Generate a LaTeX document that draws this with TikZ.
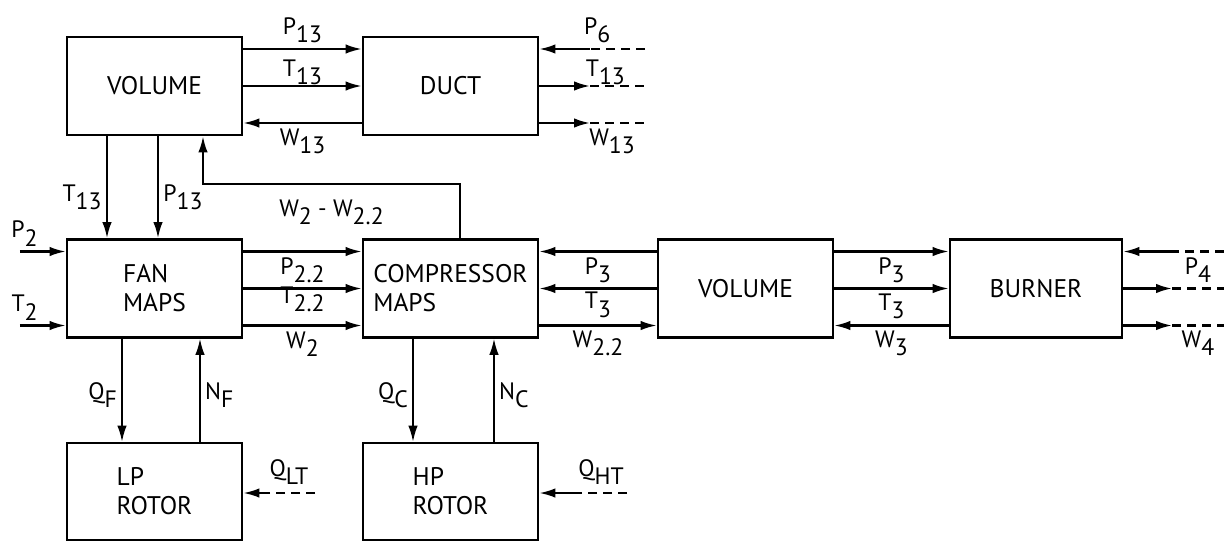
\documentclass[tikz,border=0pt]{standalone}
\usepackage{fontspec}
\setmainfont{PT Sans}
\usetikzlibrary{arrows.meta}
\newcommand\lbl[2]{#1\raisebox{-0.7ex}{#2}}

\begin{document}
\begin{tikzpicture}[
    block/.style={draw,line width=1.6pt,minimum width=3.5cm,minimum height=1.96cm,
      align=left,font=\fontsize{14.5}{16.5}\selectfont},
    flow/.style={line width=1.2pt,-{Latex[length=3.2mm,width=1.9mm]}},
    shaft/.style={flow,line width=0.9pt},
    feed/.style={line width=1.2pt,dash pattern=on 1.8mm off 1.2mm},
    lab/.style={font=\fontsize{13.5}{15}\selectfont,inner sep=2.5pt}]
  \useasboundingbox (0,0) rectangle (24.48,10.84);
  % the blocks of the engine model
  \node[block] (volt) at (3.09,9.12) {VOLUME};
  \node[block] (duct) at (9.01,9.12) {DUCT};
  \node[block] (fan) at (3.09,5.07) {FAN\\MAPS};
  \node[block] (comp) at (9.01,5.07) {COMPRESSOR\\MAPS};
  \node[block] (volm) at (14.91,5.07) {VOLUME};
  \node[block,minimum width=3.44cm] (burn) at (20.72,5.07) {BURNER};
  \node[block,minimum height=1.94cm] (lp) at (3.09,1.01) {LP\\ROTOR};
  \node[block,minimum height=1.94cm] (hp) at (9.01,1.01) {HP\\ROTOR};

  % volume <-> duct
  \draw[flow] ([yshift=0.74cm]volt.east) -- ([yshift=0.74cm]duct.west)
    node[lab,midway,above,inner sep=3pt] (p13a) {\lbl{P}{13}};
  \draw[flow] (volt.east) -- (duct.west)
    node[lab,midway,above,inner sep=0pt] (t13a) {\lbl{T}{13}};
  \draw[flow] ([yshift=-0.74cm]duct.west) -- ([yshift=-0.74cm]volt.east)
    node[lab,midway,below] (w13a) {\lbl{W}{13}};

  % free ends right of the duct
  \coordinate (p6a) at (11.8,9.86);  \coordinate (p6b) at (12.9,9.86);
  \coordinate (t6a) at (11.8,9.12);  \coordinate (t6b) at (12.9,9.12);
  \coordinate (w6a) at (11.8,8.38);  \coordinate (w6b) at (12.9,8.38);
  \draw[feed] (p6b) -- (p6a) node[lab,pos=0.87,above,inner sep=3pt] (p6) {\lbl{P}{6}};
  \draw[flow] (p6a) -- (duct.east |- p6a);
  \draw[flow] (duct.east |- t6a) -- (t6a);
  \draw[feed] (t6a) -- (t6b) node[lab,pos=0.28,above,inner sep=0pt] (t13b) {\lbl{T}{13}};
  \draw[flow] (duct.east |- w6a) -- (w6a);
  \draw[feed] (w6a) -- (w6b) node[lab,pos=0.4,below] (w13b) {\lbl{W}{13}};

  % volume -> fan, and bleed back to the volume
  \draw[flow] ([xshift=-0.95cm]volt.south) -- ([xshift=-0.95cm]fan.north)
    node[lab,pos=0.6,left] (t13c) {\lbl{T}{13}};
  \draw[flow] ([xshift=0.07cm]volt.south) -- ([xshift=0.07cm]fan.north)
    node[lab,pos=0.6,right] (p13c) {\lbl{P}{13}};
  \draw[flow] ([xshift=0.19cm]comp.north) -- ++(0,1.08) -| ([xshift=0.97cm]volt.south)
    node[lab,pos=0.25,below=0.2cm] (bleed) {\lbl{W}{2} - \lbl{W}{2.2}};

  % fan inlet
  \coordinate (p2a) at (0.4,5.81);  \coordinate (t2a) at (0.4,4.33);
  \draw[flow] (p2a) -- (fan.west |- p2a) node[lab,pos=0.1,above] (p2) {\lbl{P}{2}};
  \draw[flow] (t2a) -- (fan.west |- t2a) node[lab,pos=0.1,above] (t2) {\lbl{T}{2}};

  % fan -> compressor
  \draw[flow] ([yshift=0.74cm]fan.east) -- ([yshift=0.74cm]comp.west)
    node[lab,midway,below,inner sep=3pt] (p22) {\lbl{P}{2.2}};
  \draw[flow] (fan.east) -- (comp.west)
    node[lab,midway,anchor=north,yshift=0.14cm] (t22) {\lbl{T}{2.2}};
  \draw[flow] ([yshift=-0.74cm]fan.east) -- ([yshift=-0.74cm]comp.west)
    node[lab,midway,below,inner sep=3pt] (w2) {\lbl{W}{2}};

  % compressor <-> volume
  \draw[flow] ([yshift=0.74cm]volm.west) -- ([yshift=0.74cm]comp.east)
    node[lab,midway,below,inner sep=3pt] (p3a) {\lbl{P}{3}};
  \draw[flow] (volm.west) -- (comp.east)
    node[lab,midway,below,inner sep=1.5pt] (t3a) {\lbl{T}{3}};
  \draw[flow] ([yshift=-0.74cm]comp.east) -- ([yshift=-0.74cm]volm.west)
    node[lab,midway,below] (w22) {\lbl{W}{2.2}};

  % volume <-> burner
  \draw[flow] ([yshift=0.74cm]volm.east) -- ([yshift=0.74cm]burn.west)
    node[lab,midway,below,inner sep=3pt] (p3b) {\lbl{P}{3}};
  \draw[flow] (volm.east) -- (burn.west)
    node[lab,midway,below,inner sep=2.5pt] (t3b) {\lbl{T}{3}};
  \draw[flow] ([yshift=-0.74cm]burn.west) -- ([yshift=-0.74cm]volm.east)
    node[lab,midway,below] (w3) {\lbl{W}{3}};

  % free ends right of the burner
  \coordinate (p4a) at (23.44,5.81);  \coordinate (p4b) at (24.48,5.81);
  \coordinate (t4a) at (23.44,5.07);  \coordinate (t4b) at (24.48,5.07);
  \coordinate (w4a) at (23.44,4.33);  \coordinate (w4b) at (24.48,4.33);
  \draw[feed] (p4b) -- (p4a) node[lab,pos=0.5,below,inner sep=3pt] (p4) {\lbl{P}{4}};
  \draw[flow] (p4a) -- (burn.east |- p4a);
  \draw[flow] (burn.east |- t4a) -- (t4a);
  \draw[feed] (t4a) -- (t4b);
  \draw[flow] (burn.east |- w4a) -- (w4a);
  \draw[feed] (w4a) -- (w4b) node[lab,pos=0.5,below] (w4) {\lbl{W}{4}};

  % shafts
  \draw[shaft] ([xshift=-0.65cm]fan.south) -- ([xshift=-0.65cm]lp.north)
    node[lab,pos=0.55,left] (qf) {\lbl{Q}{F}};
  \draw[shaft] ([xshift=0.91cm]lp.north) -- ([xshift=0.91cm]fan.south)
    node[lab,pos=0.45,right] (nf) {\lbl{N}{F}};
  \draw[shaft] ([xshift=-0.75cm]comp.south) -- ([xshift=-0.75cm]hp.north)
    node[lab,pos=0.55,left] (qc) {\lbl{Q}{C}};
  \draw[shaft] ([xshift=0.87cm]hp.north) -- ([xshift=0.87cm]comp.south)
    node[lab,pos=0.45,right] (nc) {\lbl{N}{C}};

  % turbine torques
  \coordinate (qlta) at (5.26,0.98);  \coordinate (qltb) at (6.3,0.98);
  \coordinate (qhta) at (11.5,0.98);  \coordinate (qhtb) at (12.54,0.98);
  \draw[feed] (qltb) -- (qlta) node[lab,midway,above,inner sep=4pt] (qlt) {\lbl{Q}{LT}};
  \draw[flow] (qlta) -- (lp.east |- qlta);
  \draw[feed] (qhtb) -- (qhta) node[lab,midway,above,inner sep=4pt] (qht) {\lbl{Q}{HT}};
  \draw[flow] (qhta) -- (hp.east |- qhta);
\end{tikzpicture}
\end{document}
